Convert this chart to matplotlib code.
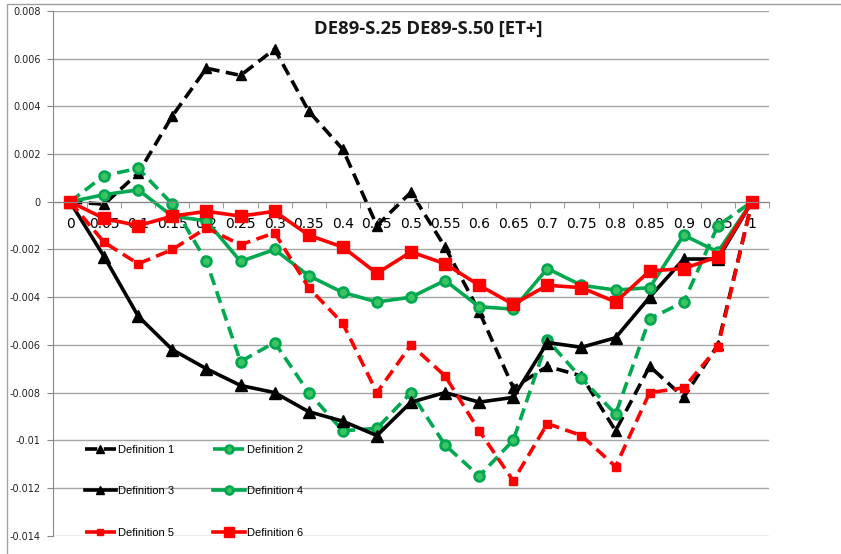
import matplotlib
matplotlib.use("Agg")
import matplotlib.pyplot as plt
from matplotlib.patches import Rectangle

# category axis (Excel-style line chart: points sit between tick marks)
categories = ["0", "0.05", "0.1", "0.15", "0.2", "0.25", "0.3", "0.35", "0.4", "0.45", "0.5",
              "0.55", "0.6", "0.65", "0.7", "0.75", "0.8", "0.85", "0.9", "0.95", "1"]

def1 = [0, -0.0001, 0.0012, 0.0036, 0.0056, 0.0053, 0.0064, 0.0038, 0.0022, -0.0010, 0.0004,
        -0.0019, -0.0046, -0.0078, -0.0069, -0.0073, -0.0096, -0.0069, -0.0082, -0.0060, 0]
def2 = [0, 0.0011, 0.0014, -0.0001, -0.0025, -0.0067, -0.0059, -0.0080, -0.0096, -0.0095, -0.0080,
        -0.0102, -0.0115, -0.0100, -0.0058, -0.0074, -0.0089, -0.0049, -0.0042, -0.0010, 0]
def3 = [0, -0.0023, -0.0048, -0.0062, -0.0070, -0.0077, -0.0080, -0.0088, -0.0092, -0.0098, -0.0084,
        -0.0080, -0.0084, -0.0082, -0.0059, -0.0061, -0.0057, -0.0040, -0.0024, -0.0024, 0]
def4 = [0, 0.0003, 0.0005, -0.0006, -0.0008, -0.0025, -0.0020, -0.0031, -0.0038, -0.0042, -0.0040,
        -0.0033, -0.0044, -0.0045, -0.0028, -0.0035, -0.0037, -0.0036, -0.0014, -0.0021, 0]
def5 = [0, -0.0017, -0.0026, -0.0020, -0.0011, -0.0018, -0.0013, -0.0036, -0.0051, -0.0080, -0.0060,
        -0.0073, -0.0096, -0.0117, -0.0093, -0.0098, -0.0111, -0.0080, -0.0078, -0.0061, 0]
def6 = [0, -0.0007, -0.0010, -0.0006, -0.0004, -0.0006, -0.0004, -0.0014, -0.0019, -0.0030, -0.0021,
        -0.0026, -0.0035, -0.0043, -0.0035, -0.0036, -0.0042, -0.0029, -0.0028, -0.0023, 0]

y_ticks = [0.008, 0.006, 0.004, 0.002, 0, -0.002, -0.004, -0.006, -0.008, -0.01, -0.012, -0.014]

GREEN = "#00a84f"
GREEN_FILL = "#3cc463"
RED = "#ff0000"
DASH = (3.4, 1.8)

fig = plt.figure(figsize=(8.41, 5.54), dpi=100)
# chart-area border
fig.patches.append(Rectangle((7 / 841, -0.01), 1.0, 1 - 4 / 554 + 0.01, transform=fig.transFigure,
                             fill=False, edgecolor="#a0a0a0", linewidth=1.0))
ax = fig.add_axes([53 / 841, 1 - 535.7 / 554, (769 - 53) / 841, (535.7 - 11) / 554])

x = list(range(len(categories)))
lw = 2.6
h1, = ax.plot(x, def1, color="black", lw=lw, dashes=DASH, marker="^", ms=7, label="Definition 1")
h2, = ax.plot(x, def2, color=GREEN, lw=lw, dashes=DASH, marker="o", ms=7, mfc=GREEN_FILL,
              mec=GREEN, mew=2, label="Definition 2")
h3, = ax.plot(x, def3, color="black", lw=lw, marker="^", ms=8, label="Definition 3")
h4, = ax.plot(x, def4, color=GREEN, lw=lw, marker="o", ms=7, mfc=GREEN_FILL, mec=GREEN, mew=2,
              label="Definition 4")
h5, = ax.plot(x, def5, color=RED, lw=lw, dashes=DASH, marker="s", ms=6, label="Definition 5")
h6, = ax.plot(x, def6, color=RED, lw=lw, marker="s", ms=9, label="Definition 6")

ax.set_xlim(-0.5, len(categories) - 0.5)
ax.set_ylim(-0.014, 0.008)
ax.set_yticks(y_ticks)
ax.set_yticklabels([f"{v:g}" for v in y_ticks], fontsize=7, family="DejaVu Sans", color="#222222")
ax.yaxis.grid(True, color="#a6a6a6", lw=1.0)
ax.set_axisbelow(True)

ax.set_xticks(x)
ax.set_xticklabels(categories, fontsize=7.5, family="DejaVu Sans", color="#222222")
ax.set_xticks([i - 0.5 for i in range(len(categories) + 1)], minor=True)
ax.tick_params(axis="x", which="major", length=0, pad=11)
ax.tick_params(axis="x", which="minor", length=4, color="#888888", direction="out")
ax.tick_params(axis="y", length=4, color="#888888", pad=5)

for side in ("top", "right"):
    ax.spines[side].set_visible(False)
ax.spines["bottom"].set_position(("data", 0))
ax.spines["bottom"].set_color("#888888")
ax.spines["left"].set_color("#888888")

ax.text(0.524, 0.984, "DE89-S.25 DE89-S.50 [ET+]", transform=ax.transAxes, ha="center", va="top",
        fontsize=13.3, fontweight="bold", family="Open Sans", color="#1a1a1a")

ax.legend([h1, h3, h5, h2, h4, h6],
          ["Definition 1", "Definition 3", "Definition 5", "Definition 2", "Definition 4", "Definition 6"],
          ncol=2, loc="upper left", bbox_to_anchor=(0.044, 0.173), frameon=False,
          prop={"family": "Liberation Sans", "size": 8}, handlelength=2.8, handletextpad=0.2,
          columnspacing=3.55, labelspacing=2.82, borderpad=0, borderaxespad=0, markerscale=0.8)

fig.savefig("out.png", dpi=100)
